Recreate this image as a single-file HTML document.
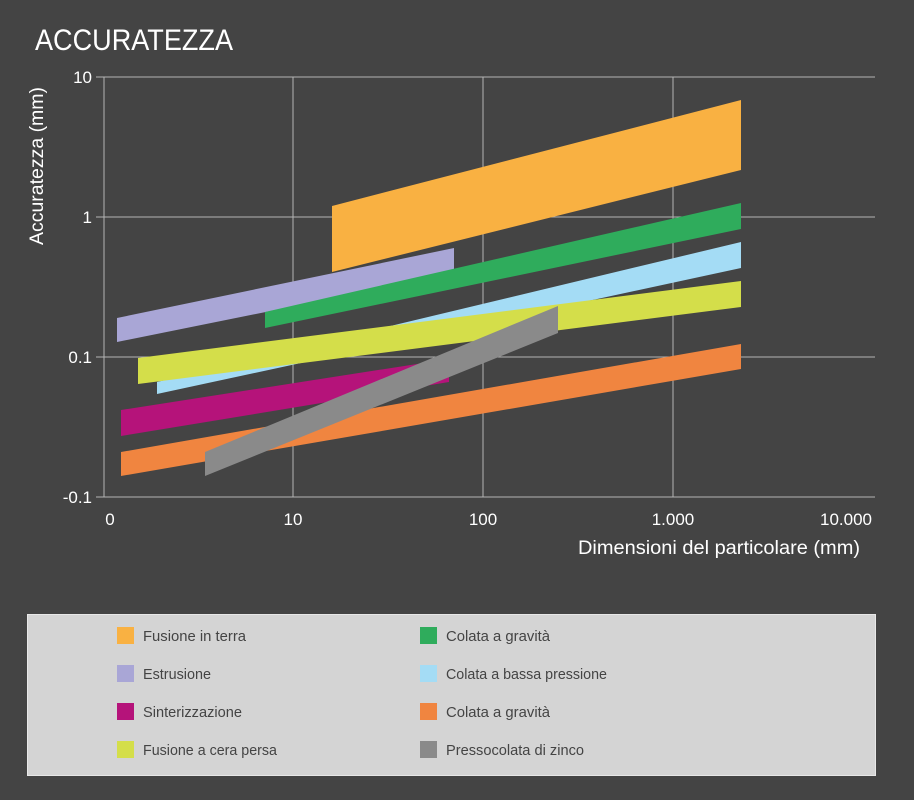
<!DOCTYPE html>
<html><head><meta charset="utf-8"><style>
html,body{margin:0;padding:0;background:#444444;}
svg{display:block;font-family:"Liberation Sans",sans-serif;}
</style></head><body>
<svg width="914" height="800" viewBox="0 0 914 800">
<rect width="914" height="800" fill="#444444"/>
<text x="35" y="50" fill="#fff" font-size="30" textLength="198" lengthAdjust="spacingAndGlyphs">ACCURATEZZA</text>
<g stroke="#b5b5b5" stroke-width="1">
<line x1="96" y1="77" x2="875" y2="77"/>
<line x1="96" y1="217" x2="875" y2="217"/>
<line x1="96" y1="357" x2="875" y2="357"/>
<line x1="96" y1="497" x2="875" y2="497"/>
<line x1="104" y1="77" x2="104" y2="497"/>
<line x1="293" y1="77" x2="293" y2="497"/>
<line x1="483" y1="77" x2="483" y2="497"/>
<line x1="673" y1="77" x2="673" y2="497"/>
</g>
<g fill="#fff" font-size="17" text-anchor="end">
<text x="92" y="83">10</text><text x="92" y="223">1</text><text x="92" y="363">0.1</text><text x="92" y="503">-0.1</text>
</g>
<g fill="#fff" font-size="17" text-anchor="middle">
<text x="110" y="525">0</text><text x="293" y="525">10</text><text x="483" y="525">100</text><text x="673" y="525">1.000</text><text x="846" y="525">10.000</text>
</g>
<text transform="translate(43,166) rotate(-90)" fill="#fff" font-size="19" text-anchor="middle" textLength="158" lengthAdjust="spacingAndGlyphs">Accuratezza (mm)</text>
<text x="578" y="554" fill="#fff" font-size="19" textLength="282" lengthAdjust="spacingAndGlyphs">Dimensioni del particolare (mm)</text>
<polygon points="332,206 741,100 741,170 332,272" fill="#f9b142"/>
<polygon points="117,318 454,248 454,274 117,342" fill="#a9a6d6"/>
<polygon points="265,312 741,203 741,229 265,328" fill="#2fac5c"/>
<polygon points="157,382 741,242 741,268 157,394" fill="#a4dcf5"/>
<polygon points="138,358 741,281 741,307 138,384" fill="#d4de4a"/>
<polygon points="121,410 449,359 449,382 121,436" fill="#b5137a"/>
<polygon points="121,452 741,344 741,369 121,476" fill="#f08540"/>
<polygon points="205,452 558,306 558,333 205,476" fill="#8a8a8a"/>
<rect x="27.5" y="614.5" width="848" height="161" fill="#d4d4d4" stroke="#e8e8e8"/>
<g font-size="15" fill="#444">
<rect x="117" y="627" width="17" height="17" fill="#f9b142"/><text x="143" y="641" textLength="103" lengthAdjust="spacingAndGlyphs">Fusione in terra</text>
<rect x="117" y="665" width="17" height="17" fill="#a9a6d6"/><text x="143" y="679" textLength="68" lengthAdjust="spacingAndGlyphs">Estrusione</text>
<rect x="117" y="703" width="17" height="17" fill="#b5137a"/><text x="143" y="717" textLength="99" lengthAdjust="spacingAndGlyphs">Sinterizzazione</text>
<rect x="117" y="741" width="17" height="17" fill="#d4de4a"/><text x="143" y="755" textLength="134" lengthAdjust="spacingAndGlyphs">Fusione a cera persa</text>
<rect x="420" y="627" width="17" height="17" fill="#2fac5c"/><text x="446" y="641" textLength="104" lengthAdjust="spacingAndGlyphs">Colata a gravità</text>
<rect x="420" y="665" width="17" height="17" fill="#a4dcf5"/><text x="446" y="679" textLength="161" lengthAdjust="spacingAndGlyphs">Colata a bassa pressione</text>
<rect x="420" y="703" width="17" height="17" fill="#f08540"/><text x="446" y="717" textLength="104" lengthAdjust="spacingAndGlyphs">Colata a gravità</text>
<rect x="420" y="741" width="17" height="17" fill="#8a8a8a"/><text x="446" y="755" textLength="138" lengthAdjust="spacingAndGlyphs">Pressocolata di zinco</text>
</g>
</svg>
</body></html>
